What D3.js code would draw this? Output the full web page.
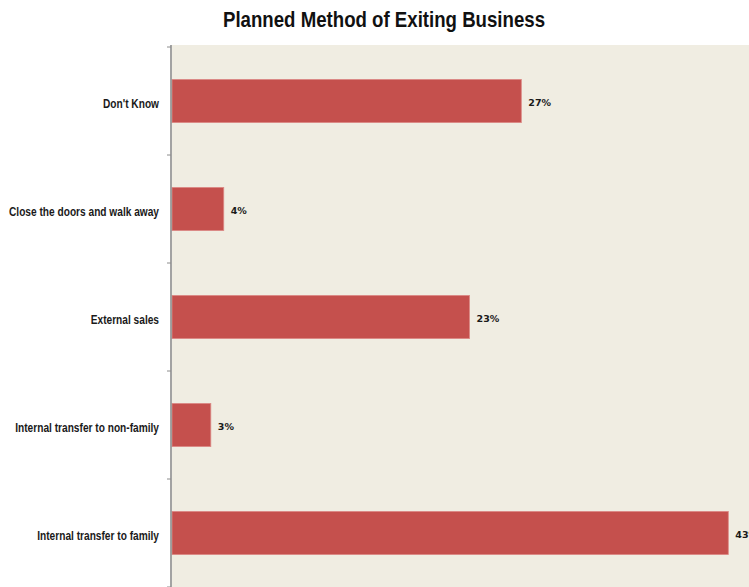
<!DOCTYPE html>
<html>
<head>
<meta charset="utf-8">
<script src="https://cdn.jsdelivr.net/npm/d3@7"></script>
<style>
  html, body { margin: 0; padding: 0; background: #ffffff; }
  svg { display: block; }
</style>
</head>
<body>
<svg id="chart" width="749" height="587"></svg>
<script>
// Survey answers, drawn top to bottom
const categories = [
  "Don't Know",
  "Close the doors and walk away",
  "External sales",
  "Internal transfer to non-family",
  "Internal transfer to family"
];
const shares = [27, 4, 23, 3, 43];
const valueLabels = ["27%", "4%", "23%", "3%", "43%"];
const chartTitle = "Planned Method of Exiting Business";

const width = 749, height = 587;
const margin = { top: 47, right: 0, bottom: 0, left: 172 };

const svg = d3.select("#chart");

// Squeeze a text horizontally so it reads like a condensed face
function condense(sel, factor) {
  sel.each(function () {
    const w = this.getComputedTextLength();
    d3.select(this)
      .attr("textLength", w * factor)
      .attr("lengthAdjust", "spacingAndGlyphs");
  });
}

// Plot background
svg.append("rect")
  .attr("x", margin.left)
  .attr("y", 45)
  .attr("width", width - margin.left)
  .attr("height", height - 45)
  .attr("fill", "#f0ede2");

const x = d3.scaleLinear()
  .domain([0, 44.6])
  .range([margin.left, width]);

const y = d3.scaleBand()
  .domain(categories)
  .range([margin.top, height])
  .paddingInner(0.6)
  .paddingOuter(0.3);

const rows = categories.map((c, i) => ({ c, v: shares[i], label: valueLabels[i] }));

// Bars
svg.append("g")
  .selectAll("rect")
  .data(rows)
  .join("rect")
  .attr("x", x(0))
  .attr("y", d => y(d.c))
  .attr("width", d => x(d.v) - x(0))
  .attr("height", y.bandwidth())
  .attr("fill", "#c5504d")
  .attr("stroke", "#dc8a86")
  .attr("stroke-width", 0.8);

// Value labels at the bar ends
svg.append("g")
  .selectAll("text")
  .data(rows)
  .join("text")
  .attr("x", d => x(d.v) + 7)
  .attr("y", d => y(d.c) + y.bandwidth() / 2 + 5)
  .attr("font-family", "'DejaVu Sans', sans-serif")
  .attr("font-weight", "bold")
  .attr("font-size", "9.5px")
  .attr("fill", "#1a1a1a")
  .text(d => d.label);

// Category axis with ticks on the band boundaries
const axisG = svg.append("g");
const bounds = d3.range(categories.length + 1).map(i => margin.top + i * y.step());
axisG.append("line")
  .attr("x1", margin.left - 1).attr("x2", margin.left - 1)
  .attr("y1", 45).attr("y2", height)
  .attr("stroke", "#8c8c8c").attr("stroke-width", 1.6);
axisG.selectAll("line.tick")
  .data(bounds)
  .join("line")
  .attr("class", "tick")
  .attr("x1", margin.left - 5).attr("x2", margin.left - 1)
  .attr("y1", d => d).attr("y2", d => d)
  .attr("stroke", "#8c8c8c").attr("stroke-width", 1);

const catText = axisG.selectAll("text.cat")
  .data(categories)
  .join("text")
  .attr("class", "cat")
  .attr("x", 159)
  .attr("y", d => y(d) + y.bandwidth() / 2 + 6.5)
  .attr("text-anchor", "end")
  .attr("font-family", "'Liberation Sans', Arial, sans-serif")
  .attr("font-weight", "bold")
  .attr("font-size", "12.5px")
  .attr("fill", "#1a1a1a")
  .text(d => d);
// Fit the longest label into the gutter left of the axis
const longest = d3.max(catText.nodes(), n => n.getComputedTextLength());
condense(catText, 150 / longest);

// Title
const title = svg.append("text")
  .attr("x", 384)
  .attr("y", 27)
  .attr("text-anchor", "middle")
  .attr("font-family", "'Liberation Sans', Arial, sans-serif")
  .attr("font-weight", "bold")
  .attr("font-size", "21.5px")
  .attr("fill", "#111111")
  .text(chartTitle);
condense(title, 322 / title.node().getComputedTextLength());
</script>
</body>
</html>
